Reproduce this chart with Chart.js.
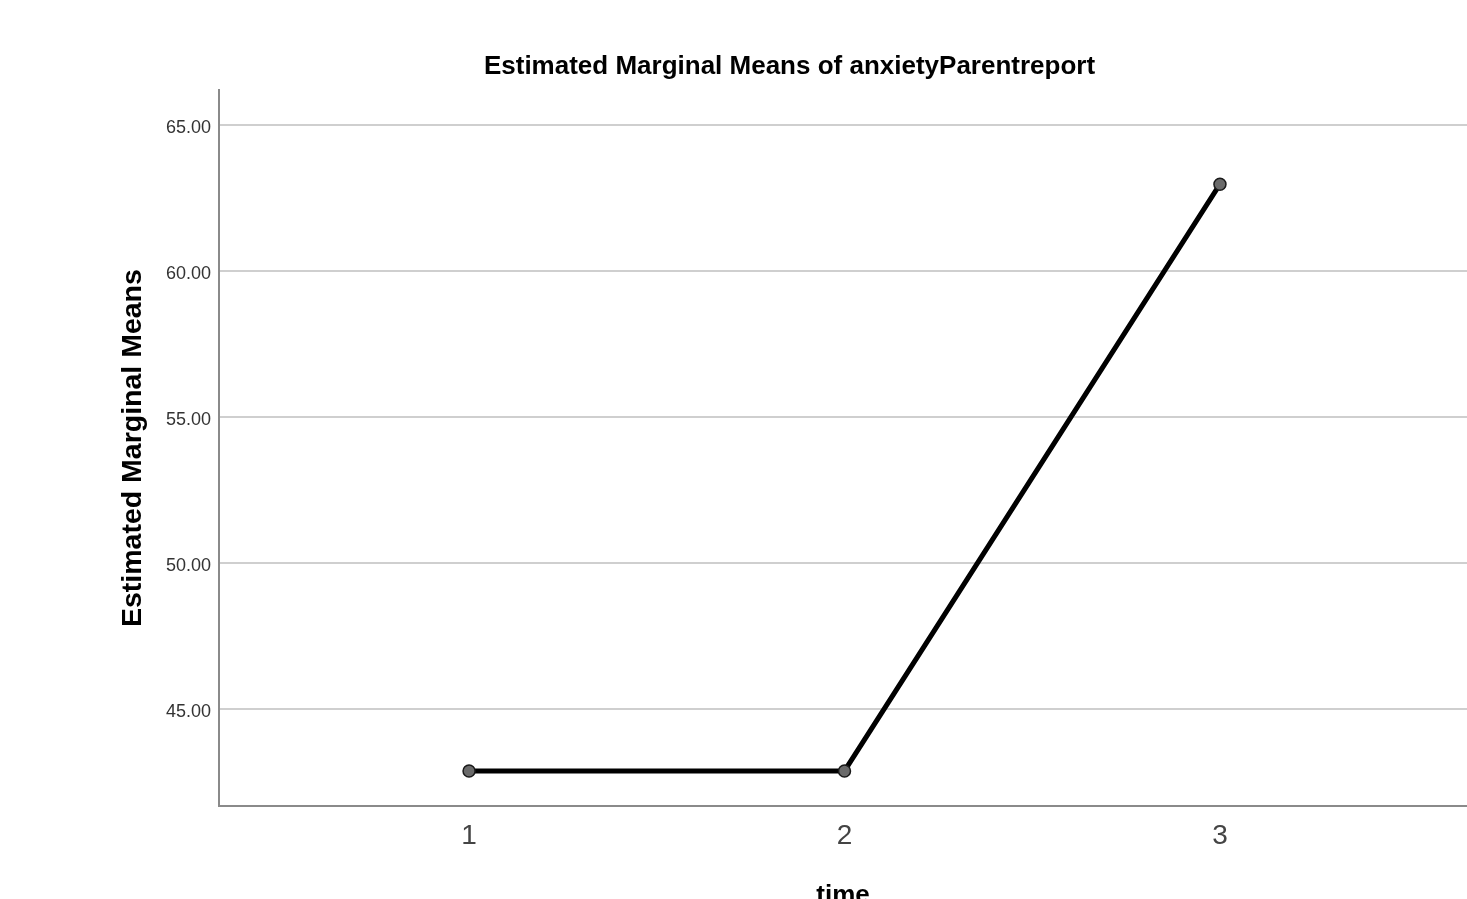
<!DOCTYPE html>
<html>
<head>
<meta charset="utf-8">
<title>Estimated Marginal Means of anxietyParentreport</title>
<script src="https://cdn.jsdelivr.net/npm/chart.js@4/dist/chart.umd.min.js"></script>
<style>
    html, body { margin: 0; padding: 0; background: #fff; overflow: hidden; }
    #myChart { display: block; }
</style>
</head>
<body>
<canvas id="myChart" width="1467" height="899"></canvas>
<script>
// Data
const times = [1, 2, 3];
const means = [42.88, 42.88, 62.98];
const xTicks = [1, 2, 3];
const yTicks = [45, 50, 55, 60, 65];

const FONT = "'Liberation Sans', Arial, sans-serif";
const ctx = document.querySelector("#myChart").getContext("2d");

// Chart object
const emmChart = new Chart(ctx, {
    type: "line",
    data: {
        datasets: [{
            label: "anxietyParentreport",
            data: times.map((t, i) => ({ x: t, y: means[i] })),
            borderColor: "#000",
            borderWidth: 5,
            pointRadius: 6,
            pointBackgroundColor: "#6a6a6a",
            pointBorderColor: "#1a1a1a",
            pointBorderWidth: 1.5,
            tension: 0,
        }],
    },
    options: {
        responsive: false,
        animation: false,
        layout: {
            autoPadding: false,
            padding: { top: 0, left: 112, right: 0, bottom: -15 },
        },
        scales: {
            x: {
                type: "linear",
                min: 0.334,
                max: 3.658,
                afterBuildTicks: (scale) => {
                    scale.ticks = xTicks.map((v) => ({ value: v }));
                },
                afterFit: (scale) => {
                    scale.height = 108;
                    scale.paddingLeft = 0;
                    scale.paddingRight = 0;
                },
                grid: { display: false, drawTicks: false },
                border: { display: true, color: "#8a8a8a", width: 2 },
                ticks: {
                    padding: 13,
                    color: "#444",
                    font: { family: FONT, size: 28, weight: "normal" },
                    callback: (v) => String(v),
                },
                title: {
                    display: true,
                    text: "time",
                    color: "#000",
                    padding: { top: 4, bottom: 3 },
                    font: { family: FONT, size: 26, weight: "bold" },
                },
            },
            y: {
                type: "linear",
                min: 41.68,
                max: 66.2,
                afterBuildTicks: (scale) => {
                    scale.ticks = yTicks.map((v) => ({ value: v }));
                },
                afterFit: (scale) => {
                    scale.width = 107;
                },
                grid: { color: "#cfcfcf", lineWidth: 2, drawTicks: false },
                border: { display: true, color: "#8a8a8a", width: 2 },
                ticks: {
                    padding: 8,
                    labelOffset: 3,
                    color: "#333",
                    font: { family: FONT, size: 18 },
                    callback: (v) => Number(v).toFixed(2),
                },
                title: {
                    display: true,
                    text: "Estimated Marginal Means",
                    color: "#000",
                    padding: { top: 4, bottom: 4 },
                    font: { family: FONT, size: 28.5, weight: "bold" },
                },
            },
        },
        plugins: {
            legend: { display: false },
            tooltip: { enabled: false },
            title: {
                display: true,
                text: "Estimated Marginal Means of anxietyParentreport",
                color: "#000",
                padding: { top: 51, bottom: 8 },
                font: { family: FONT, size: 26, weight: "bold" },
            },
        },
    },
});
</script>
</body>
</html>
